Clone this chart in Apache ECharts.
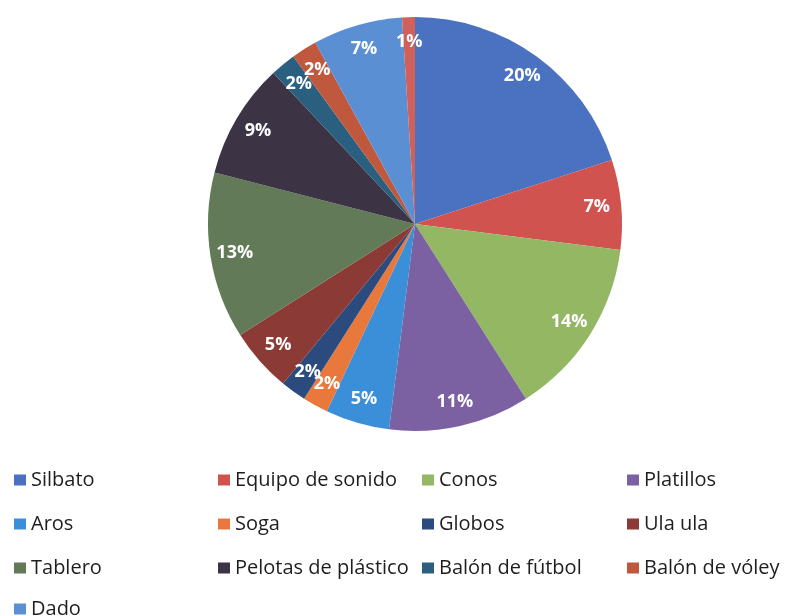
<!DOCTYPE html>
<html>
<head>
<meta charset="utf-8">
<script src="https://cdn.jsdelivr.net/npm/echarts@6/dist/echarts.min.js"></script>
<style>
html,body{margin:0;padding:0;background:#fff;}
#c{width:786px;height:616px;}
</style>
</head>
<body>
<div id="c"></div>
<script>
const categories = ["Silbato","Equipo de sonido","Conos","Platillos","Aros","Soga","Globos","Ula ula","Tablero","Pelotas de plástico","Balón de fútbol","Balón de vóley","Dado","Otros"];
const values = [20,7,14,11,5,2,2,5,13,9,2,2,7,1];
const colors = ["#4A72C0","#D0534F","#93B763","#7B60A2","#3B8ED8","#E8783C","#2B4A7E","#8C3A36","#627A58","#3C3344","#2A5F80","#C0583E","#5B8FD4","#D0605A"];
const legendCols = [
  ["Silbato","Aros","Tablero"],
  ["Equipo de sonido","Soga","Pelotas de plástico"],
  ["Conos","Globos","Balón de fútbol"],
  ["Platillos","Ula ula","Balón de vóley"],
  ["Dado"]
];
const legendX = [14, 218, 422, 627, 14];
const legendY = [470, 470, 470, 470, 599];

const data = categories.map((n,i)=>({name:n, value:values[i], itemStyle:{color:colors[i]}}));
const font = '"Open Sans", Lato, sans-serif';

const chart = echarts.init(document.getElementById('c'), null, {renderer:'canvas'});
chart.setOption({
  backgroundColor:'#fff',
  animation:false,
  legend: legendCols.map((col,i)=>({
    data: col,
    orient:'vertical',
    left: legendX[i],
    top: legendY[i],
    padding: 0,
    itemWidth: 12,
    itemHeight: 11,
    itemGap: 24,
    icon: 'rect',
    selectedMode:false,
    textStyle:{fontFamily:font, fontSize:20, color:'#1e1e1e', lineHeight:19, padding:[0,0,0,0]}
  })),
  series:[
    {
      type:'pie',
      center:[415,224],
      radius:[0,207],
      startAngle:90,
      clockwise:true,
      silent:true,
      data:data,
      label:{show:false},
      labelLine:{show:false},
      itemStyle:{borderWidth:0}
    },
    {
      type:'pie',
      center:[415,224],
      radius:[152,207],
      startAngle:90,
      clockwise:true,
      silent:true,
      avoidLabelOverlap:false,
      labelLayout:{hideOverlap:false},
      data:data.map(d=>({name:d.name, value:d.value})),
      itemStyle:{color:'rgba(0,0,0,0)', borderWidth:0},
      label:{
        show:true,
        position:'inside',
        formatter:(p)=>Math.round(p.percent)+'%',
        color:'#fff',
        fontFamily:font,
        fontWeight:'bold',
        fontSize:18
      },
      labelLine:{show:false}
    }
  ]
});
</script>
</body>
</html>
